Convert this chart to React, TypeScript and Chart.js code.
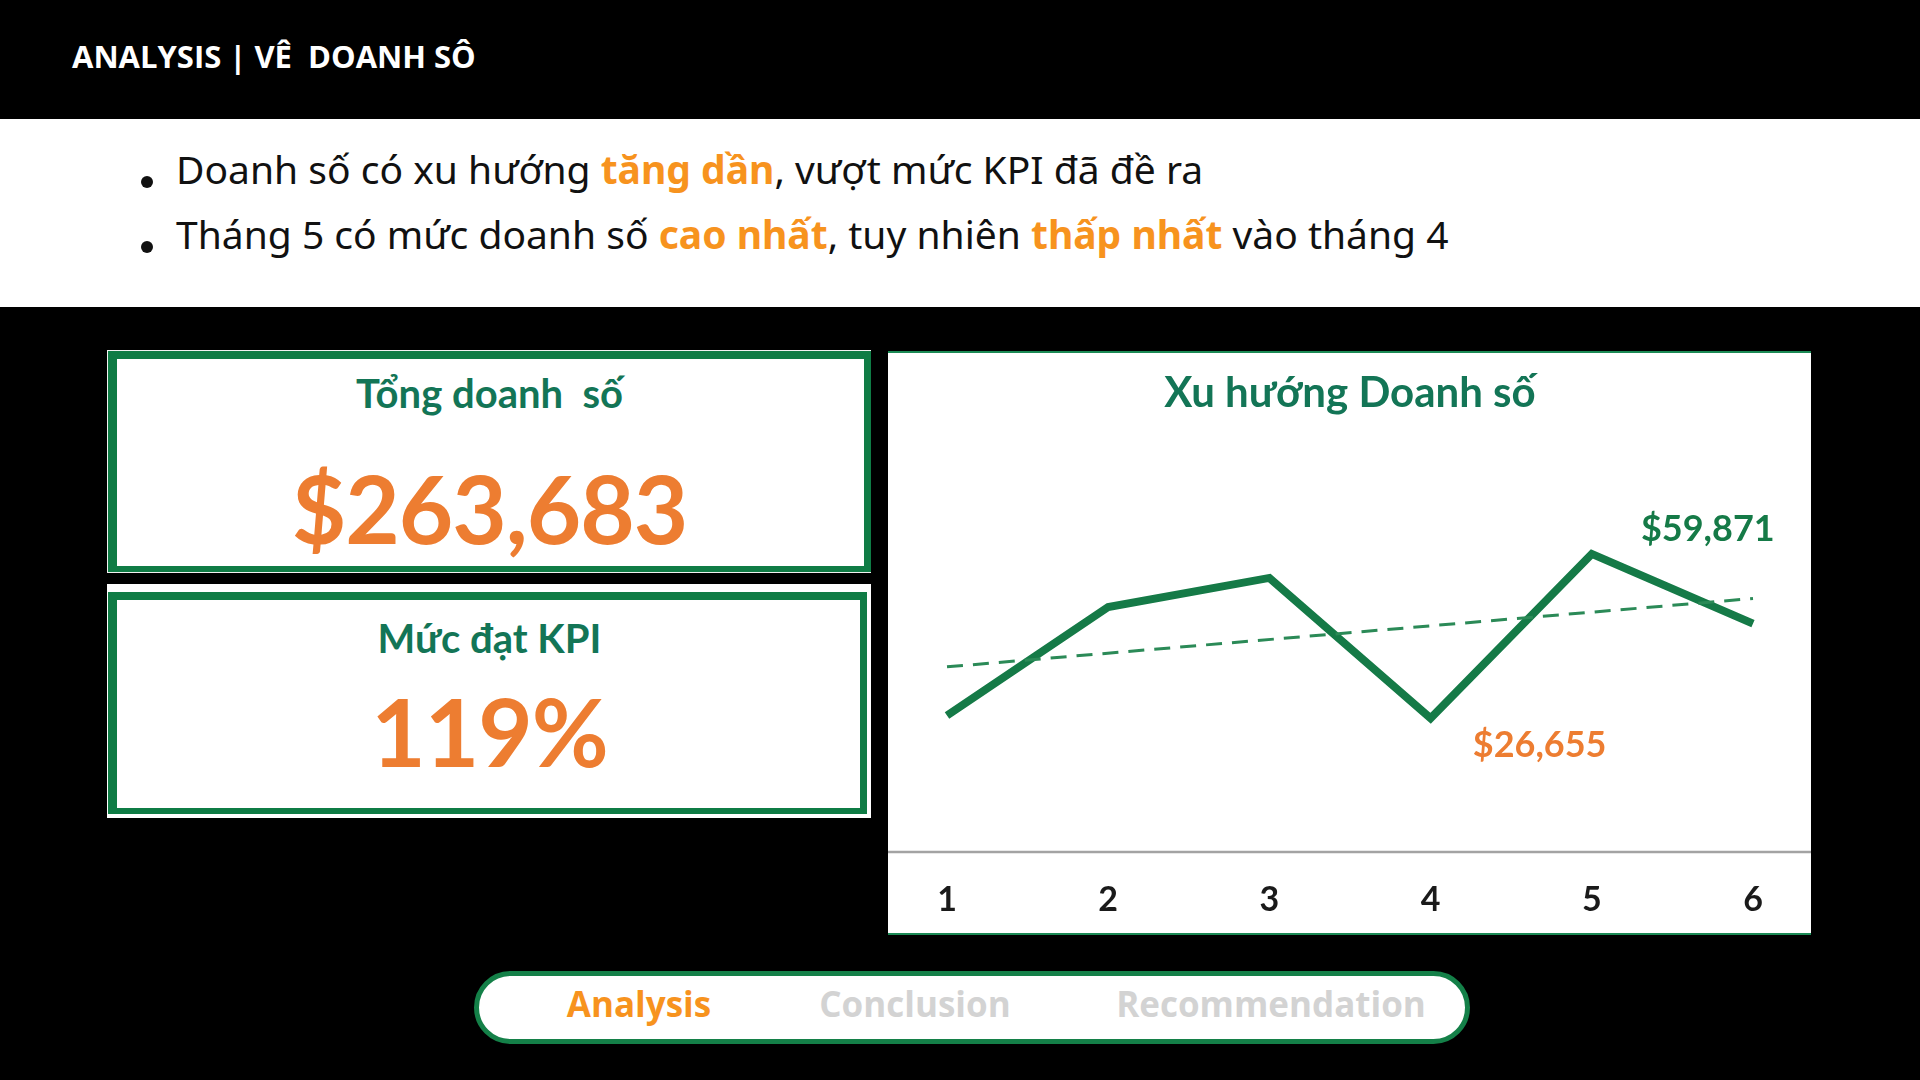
import React, { useEffect, useRef } from "react";
import { Chart, registerables } from "chart.js";

Chart.register(...registerables);

// ---- data ----
const months = ["1", "2", "3", "4", "5", "6"];
const monthlySales = [27200, 49150, 55020, 26655, 59871, 45787];
const trendMonths = ["1", "6"];
const trendValues = [37040, 50860];
const yAxisMin = 0;
const yAxisMax = 80000;
const kpiRateLabel = "119%";
const chartTitle = "Xu hướng Doanh số";

const GREEN = "#157a47";
const TREND_GREEN = "#2b8a57";
const ORANGE_XL = "#ED7D31";
const ORANGE = "#F7931E";
const TITLE_GREEN = "#137556";

const fmt = (v: number) => "$" + v.toLocaleString("en-US");

const peakLabels = {
  id: "peakLabels",
  afterDatasetsDraw(chart: any) {
    const meta = chart.getDatasetMeta(0);
    const vals = chart.data.datasets[0].data as number[];
    const maxI = vals.indexOf(Math.max(...vals));
    const minI = vals.indexOf(Math.min(...vals));
    const ctx = chart.ctx;
    ctx.save();
    ctx.textAlign = "center";
    ctx.textBaseline = "middle";
    ctx.font = "bold 36px Lato";
    const pMax = meta.data[maxI];
    ctx.fillStyle = GREEN;
    ctx.fillText(fmt(vals[maxI]), pMax.x + 116, pMax.y - 25);
    const pMin = meta.data[minI];
    ctx.fillStyle = ORANGE_XL;
    ctx.fillText(fmt(vals[minI]), pMin.x + 109, pMin.y + 27);
    ctx.restore();
  },
};

const fullAxisLine = {
  id: "fullAxisLine",
  beforeDatasetsDraw(chart: any) {
    const ctx = chart.ctx;
    const y = chart.chartArea.bottom + 2;
    ctx.save();
    ctx.strokeStyle = "#a3a3a3";
    ctx.lineWidth = 2.5;
    ctx.beginPath();
    ctx.moveTo(0, y);
    ctx.lineTo(chart.width, y);
    ctx.stroke();
    ctx.restore();
  },
};

function TrendChart() {
  const ref = useRef<HTMLCanvasElement | null>(null);
  useEffect(() => {
    if (!ref.current) return;
    const chart = new Chart(ref.current, {
      type: "line",
      data: {
        labels: months,
        datasets: [
          {
            data: monthlySales,
            borderColor: GREEN,
            borderWidth: 8,
            pointRadius: 0,
            tension: 0,
            fill: false,
            order: 1,
          },
          {
            data: trendMonths.map((m, i) => ({ x: m, y: trendValues[i] })) as any,
            borderColor: TREND_GREEN,
            borderWidth: 3,
            borderDash: [16, 10],
            pointRadius: 0,
            tension: 0,
            fill: false,
            order: 0,
          },
        ],
      },
      options: {
        animation: false,
        responsive: false,
        maintainAspectRatio: false,
        layout: { padding: { left: 59, right: 58, top: 0, bottom: 0 } },
        plugins: {
          legend: { display: false },
          tooltip: { enabled: false },
          title: {
            display: true,
            text: chartTitle,
            color: TITLE_GREEN,
            font: { family: "Lato", size: 42, weight: "bold" },
            padding: { top: 15, bottom: 36 },
          },
        },
        scales: {
          x: {
            offset: false,
            grid: { display: false, drawTicks: false },
            border: { display: false },
            ticks: {
              color: "#1a1a1a",
              font: { family: "Lato", size: 34, weight: "bold" },
              padding: 30,
              maxRotation: 0,
            },
            afterFit: (scale: any) => {
              scale.height = 83;
            },
          },
          y: { display: false, min: yAxisMin, max: yAxisMax },
        },
      },
      plugins: [fullAxisLine, peakLabels],
    });
    return () => chart.destroy();
  }, []);
  return <canvas ref={ref} width={923} height={580} style={{ width: 923, height: 580, display: "block" }} />;
}

const abs = (o: React.CSSProperties): React.CSSProperties => ({ position: "absolute", ...o });

export default function App() {
  const total = fmt(monthlySales.reduce((a, b) => a + b, 0));
  const bulletText: React.CSSProperties = {
    fontFamily: "'Noto Sans'",
    fontSize: 39,
    lineHeight: "39px",
    color: "#111",
    whiteSpace: "pre",
  };
  const hl: React.CSSProperties = { color: ORANGE, fontWeight: 700 };
  const dot = (top: number): React.CSSProperties =>
    abs({ left: 141, top, width: 12, height: 12, borderRadius: "50%", background: "#111" });
  const kTitle: React.CSSProperties = {
    fontFamily: "Lato",
    fontWeight: 700,
    fontSize: 40,
    lineHeight: "40px",
    color: TITLE_GREEN,
    textAlign: "center",
    whiteSpace: "pre",
  };
  const kValue: React.CSSProperties = {
    fontFamily: "Lato",
    fontWeight: 700,
    fontSize: 94,
    lineHeight: "94px",
    color: ORANGE_XL,
    textAlign: "center",
    letterSpacing: -1,
  };
  const navText: React.CSSProperties = {
    fontFamily: "'Open Sans'",
    fontWeight: 700,
    fontSize: 35,
    lineHeight: "35px",
    whiteSpace: "pre",
    transform: "translateX(-50%)",
  };
  return (
    <div style={{ position: "fixed", left: 0, top: 0, width: 1920, height: 1080, background: "#000", overflow: "hidden" }}>
      {/* header */}
      <div
        style={abs({
          left: 72,
          top: 41,
          fontFamily: "'Open Sans'",
          fontWeight: 700,
          fontSize: 31,
          lineHeight: "31px",
          color: "#fff",
          whiteSpace: "pre",
        })}
      >
        ANALYSIS | VÊ  DOANH SÔ
      </div>
      {/* white band */}
      <div style={abs({ left: 0, top: 119, width: 1920, height: 188, background: "#fff" })} />
      <div style={dot(176)} />
      <div style={dot(241)} />
      <div style={{ ...abs({ left: 176, top: 149 }), ...bulletText }}>
        Doanh số có xu hướng <span style={hl}>tăng dần</span>, vượt mức KPI đã đề ra
      </div>
      <div style={{ ...abs({ left: 176, top: 214 }), ...bulletText }}>
        Tháng 5 có mức doanh số <span style={hl}>cao nhất</span>, tuy nhiên <span style={hl}>thấp nhất</span> vào tháng 4
      </div>

      {/* KPI box 1 */}
      <div style={abs({ left: 107, top: 350, width: 764, height: 223, background: "#f2f2f2" })} />
      <div
        style={abs({
          left: 108,
          top: 351,
          width: 763,
          height: 221,
          boxSizing: "border-box",
          borderStyle: "solid",
          borderColor: "#0f7c45",
          borderWidth: "8px 7px 6px 9px",
          background: "#fff",
        })}
      />
      <div style={{ ...abs({ left: 108, width: 763, top: 373 }), ...kTitle }}>Tổng doanh  số</div>
      <div style={{ ...abs({ left: 108, width: 763, top: 461 }), ...kValue }}>{total}</div>

      {/* KPI box 2 */}
      <div style={abs({ left: 107, top: 584, width: 764, height: 234, background: "#fff" })} />
      <div
        style={abs({
          left: 108,
          top: 592,
          width: 759,
          height: 222,
          boxSizing: "border-box",
          borderStyle: "solid",
          borderColor: "#0f7c45",
          borderWidth: "8px 7px 6px 9px",
          background: "#fff",
        })}
      />
      <div style={{ ...abs({ left: 108, width: 763, top: 618 }), ...kTitle }}>Mức đạt KPI</div>
      <div style={{ ...abs({ left: 108, width: 763, top: 684 }), ...kValue }}>{kpiRateLabel}</div>

      {/* chart panel */}
      <div
        style={abs({
          left: 888,
          top: 351,
          width: 923,
          height: 584,
          boxSizing: "border-box",
          borderTop: "2px solid #1b8a55",
          borderBottom: "2px solid #1b8a55",
          background: "#fff",
        })}
      >
        <TrendChart />
      </div>

      {/* nav pill */}
      <div
        style={abs({
          left: 474,
          top: 971,
          width: 996,
          height: 73,
          boxSizing: "border-box",
          border: "5px solid #148048",
          borderRadius: 37,
          background: "#fff",
        })}
      />
      <div style={{ ...abs({ left: 639, top: 986 }), ...navText, color: ORANGE }}>Analysis</div>
      <div style={{ ...abs({ left: 915, top: 986 }), ...navText, color: "#d3d3d3" }}>Conclusion</div>
      <div style={{ ...abs({ left: 1271, top: 986 }), ...navText, color: "#d3d3d3" }}>Recommendation</div>
    </div>
  );
}
